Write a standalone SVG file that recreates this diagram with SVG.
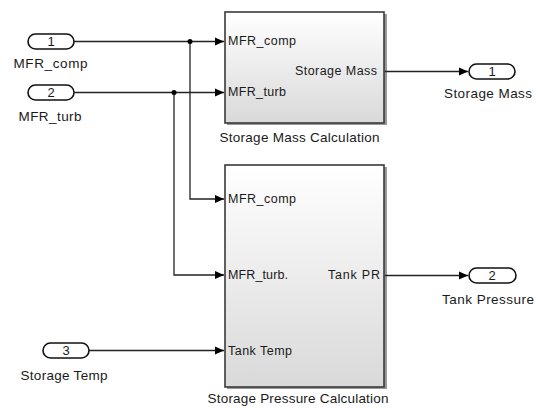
<svg xmlns="http://www.w3.org/2000/svg" width="539" height="408" viewBox="0 0 539 408">
<defs>
<linearGradient id="blk" x1="0" y1="0" x2="0" y2="1">
<stop offset="0" stop-color="#ffffff"/>
<stop offset="1" stop-color="#d9d9d9"/>
</linearGradient>
<marker id="arr" markerWidth="10" markerHeight="10" refX="9" refY="5" orient="auto" markerUnits="userSpaceOnUse">
<path d="M0,1 L9,5 L0,9 Z" fill="#000"/>
</marker>
<style>
.t{font-family:"Liberation Sans",Arial,sans-serif;fill:#1a1a1a}
.lbl{font-size:13.5px;text-anchor:middle}
.prt{font-size:12.5px}
.num{font-size:13px;text-anchor:middle}
.pill{fill:#fff;stroke:#111;stroke-width:1.6}
.box{fill:url(#blk);stroke:#3a3a3a;stroke-width:1.6}
.sh{fill:#999}
.ln{fill:none;stroke:#222;stroke-width:1.3}
</style>
</defs>
<rect width="539" height="408" fill="#fff"/>

<g id="in1">
<rect class="pill" x="28" y="34" width="46" height="15" rx="7.5"/>
<text class="t num" x="51" y="46">1</text>
<text class="t lbl" x="50.5" y="68" textLength="74" lengthAdjust="spacing">MFR_comp</text>
</g>
<g id="in2">
<rect class="pill" x="28" y="85" width="46" height="15" rx="7.5"/>
<text class="t num" x="51" y="97">2</text>
<text class="t lbl" x="50" y="121" textLength="63" lengthAdjust="spacing">MFR_turb</text>
</g>
<g id="in3">
<rect class="pill" x="43" y="343" width="46" height="15" rx="7.5"/>
<text class="t num" x="66" y="355">3</text>
<text class="t lbl" x="64" y="380" textLength="87" lengthAdjust="spacing">Storage Temp</text>
</g>

<g id="mass">
<rect class="sh" x="227" y="14" width="160" height="111"/>
<rect class="box" x="225" y="12" width="159" height="111"/>
<text class="t prt" x="228" y="45" textLength="68" lengthAdjust="spacing">MFR_comp</text>
<text class="t prt" x="228" y="96" textLength="58" lengthAdjust="spacing">MFR_turb</text>
<text class="t prt" x="377" y="75" text-anchor="end" textLength="82" lengthAdjust="spacing">Storage Mass</text>
<text class="t lbl" x="299.5" y="142" textLength="160" lengthAdjust="spacing">Storage Mass Calculation</text>
</g>

<g id="pressure">
<rect class="sh" x="227" y="167" width="160" height="222"/>
<rect class="box" x="225" y="165" width="159" height="222"/>
<text class="t prt" x="228" y="203" textLength="68" lengthAdjust="spacing">MFR_comp</text>
<text class="t prt" x="228" y="279" textLength="60" lengthAdjust="spacing">MFR_turb.</text>
<text class="t prt" x="228" y="355" textLength="64" lengthAdjust="spacing">Tank Temp</text>
<text class="t prt" x="380" y="279" text-anchor="end" textLength="52" lengthAdjust="spacing">Tank PR</text>
<text class="t lbl" x="298" y="403" textLength="181" lengthAdjust="spacing">Storage Pressure Calculation</text>
</g>

<g id="out1">
<rect class="pill" x="469" y="64" width="46" height="15" rx="7.5"/>
<text class="t num" x="492" y="76">1</text>
<text class="t lbl" x="488" y="98" textLength="88" lengthAdjust="spacing">Storage Mass</text>
</g>
<g id="out2">
<rect class="pill" x="469" y="268" width="47" height="15" rx="7.5"/>
<text class="t num" x="492" y="280">2</text>
<text class="t lbl" x="488" y="304" textLength="92" lengthAdjust="spacing">Tank Pressure</text>
</g>

<g id="connectors">
<path class="ln" d="M74,41.5 H224" marker-end="url(#arr)"/>
<path class="ln" d="M74,92.5 H224" marker-end="url(#arr)"/>
<path class="ln" d="M190,41.5 V199 H224" marker-end="url(#arr)"/>
<path class="ln" d="M174,92.5 V275 H224" marker-end="url(#arr)"/>
<path class="ln" d="M89,350.5 H224" marker-end="url(#arr)"/>
<path class="ln" d="M385,71.5 H468" marker-end="url(#arr)"/>
<path class="ln" d="M385,275.5 H468" marker-end="url(#arr)"/>
<circle cx="190" cy="41.5" r="2.5" fill="#000"/>
<circle cx="174" cy="92.5" r="2.5" fill="#000"/>
</g>
</svg>
